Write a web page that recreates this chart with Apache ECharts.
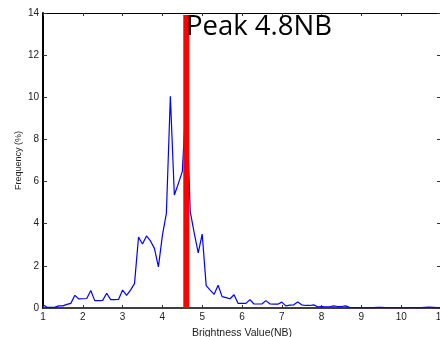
<!DOCTYPE html>
<html>
<head>
<meta charset="utf-8">
<script src="https://cdn.jsdelivr.net/npm/echarts@6/dist/echarts.min.js"></script>
<style>
  html, body { margin: 0; padding: 0; background: #fff; }
  #chart { width: 440px; height: 337px; }
</style>
</head>
<body>
<div id="chart"></div>
<script>
// brightness (NB) sample positions and histogram frequency (%)
const brightness = [
  1.0, 1.1, 1.2, 1.3, 1.4, 1.5, 1.6, 1.7, 1.8, 1.9,
  2.0, 2.1, 2.2, 2.3, 2.4, 2.5, 2.6, 2.7, 2.8, 2.9,
  3.0, 3.1, 3.2, 3.3, 3.4, 3.5, 3.6, 3.7, 3.8, 3.9,
  4.0, 4.1, 4.2, 4.3, 4.4, 4.5, 4.6, 4.7, 4.8, 4.9,
  5.0, 5.1, 5.2, 5.3, 5.4, 5.5, 5.6, 5.7, 5.8, 5.9,
  6.0, 6.1, 6.2, 6.3, 6.4, 6.5, 6.6, 6.7, 6.8, 6.9,
  7.0, 7.1, 7.2, 7.3, 7.4, 7.5, 7.6, 7.7, 7.8, 7.9,
  8.0, 8.1, 8.2, 8.3, 8.4, 8.5, 8.6, 8.7, 8.8, 8.9,
  9.0, 9.1, 9.2, 9.3, 9.4, 9.5, 9.6, 9.7, 9.8, 9.9,
  10.0, 10.1, 10.2, 10.3, 10.4, 10.5, 10.6, 10.7, 10.8, 10.9,
  11.0
];
const frequency = [
  0.15, 0.03, 0.03, 0.04, 0.1, 0.1, 0.17, 0.22, 0.6, 0.43,
  0.44, 0.45, 0.83, 0.35, 0.35, 0.36, 0.7, 0.4, 0.4, 0.41,
  0.85, 0.6, 0.85, 1.17, 3.37, 3.04, 3.42, 3.18, 2.83, 1.95,
  3.45, 4.49, 10.05, 5.36, 5.9, 6.47, 10.0, 4.57, 3.55, 2.62,
  3.51, 1.06, 0.85, 0.65, 1.08, 0.54, 0.49, 0.44, 0.63, 0.22,
  0.22, 0.22, 0.4, 0.19, 0.19, 0.19, 0.35, 0.2, 0.18, 0.18,
  0.28, 0.1, 0.14, 0.15, 0.28, 0.15, 0.12, 0.12, 0.15, 0.06,
  0.07, 0.06, 0.06, 0.1, 0.07, 0.07, 0.1, 0.03, 0.02, 0.02,
  0.02, 0.02, 0.02, 0.02, 0.03, 0.03, 0.02, 0.02, 0.02, 0.02,
  0.02, 0.02, 0.02, 0.02, 0.02, 0.02, 0.03, 0.04, 0.03, 0.02,
  0.02
];
const peakPosition = [4.6];
const peakHeight = [13.9];
const peakLabel = "Peak 4.8NB";

const labelFont = { color: "#222", fontSize: 10, fontFamily: "Liberation Sans" };

const chart = echarts.init(document.getElementById("chart"), null, { renderer: "canvas" });
chart.setOption({
  animation: false,
  grid: {
    left: 43, top: 13, width: 398, height: 295,
    containLabel: false, outerBoundsMode: "none",
  },
  xAxis: [
    {
      type: "value",
      min: 1,
      max: 11,
      interval: 1,
      name: "Brightness Value(NB)",
      nameLocation: "middle",
      nameGap: 20,
      nameMoveOverlap: false,
      nameTextStyle: { ...labelFont, fontSize: 10.5 },
      axisLine: { show: true, onZero: false, lineStyle: { color: "#000", width: 1.5 } },
      axisTick: { inside: true, length: 3, lineStyle: { color: "#333" } },
      axisLabel: { ...labelFont, margin: 4 },
      splitLine: { show: false },
    },
    {
      type: "value",
      position: "top",
      min: 1,
      max: 11,
      interval: 1,
      axisLine: { show: true, onZero: false, lineStyle: { color: "#000", width: 1 } },
      axisTick: { show: true, inside: true, length: 3, lineStyle: { color: "#333" } },
      axisLabel: { show: false },
      splitLine: { show: false },
    },
  ],
  yAxis: [
    {
      type: "value",
      min: 0,
      max: 14,
      interval: 2,
      name: "Frequency (%)",
      nameLocation: "middle",
      nameGap: 20,
      nameMoveOverlap: false,
      nameTextStyle: { ...labelFont, fontSize: 9 },
      axisLine: { show: true, onZero: false, lineStyle: { color: "#000", width: 2 } },
      axisTick: { inside: true, length: 4, lineStyle: { color: "#333" } },
      axisLabel: { ...labelFont, margin: 4 },
      splitLine: { show: false },
    },
    {
      type: "value",
      position: "right",
      min: 0,
      max: 14,
      interval: 2,
      axisLine: { show: false, onZero: false },
      axisTick: { show: true, inside: true, length: 4, lineStyle: { color: "#333" } },
      axisLabel: { show: false },
      splitLine: { show: false },
    },
  ],
  series: [
    {
      type: "line",
      data: brightness.map((x, i) => [x, frequency[i]]),
      showSymbol: false,
      lineStyle: { color: "#0000ff", width: 1.2 },
      z: 2,
    },
    {
      type: "bar",
      data: peakPosition.map((x, i) => [x, peakHeight[i]]),
      barWidth: 6,
      itemStyle: { color: "#ff0000" },
      z: 3,
    },
  ],
  graphic: [
    {
      type: "text",
      left: 186,
      top: 13,
      z: 10,
      style: { text: peakLabel, font: '27.5px "Open Sans"', fill: "#000" },
    },
  ],
});
</script>
</body>
</html>
